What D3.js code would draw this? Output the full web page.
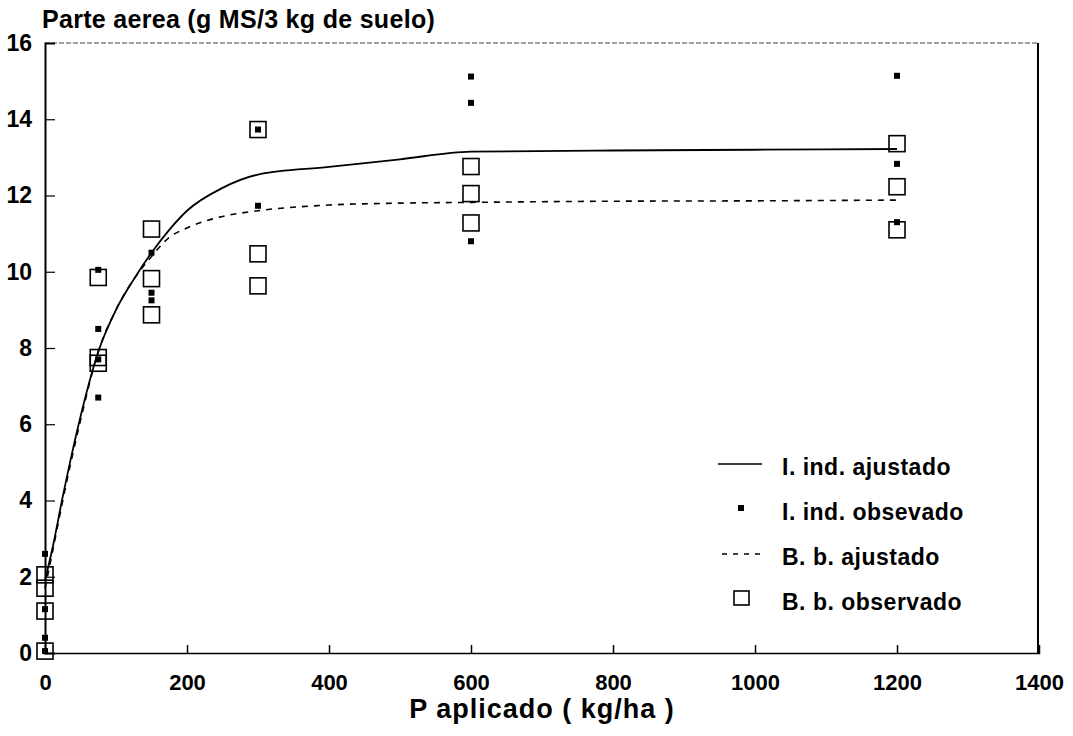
<!DOCTYPE html>
<html lang="es">
<head>
  <meta charset="utf-8">
  <title>Parte aerea</title>
  <script src="https://d3js.org/d3.v7.min.js"></script>
  <style>
    body { margin: 0; background: #fff; }
    text { font-family: "Liberation Sans", Arial, sans-serif; font-weight: bold; fill: #000; }
  </style>
</head>
<body>
<div id="container"></div>
<script>
  var w = 1073, h = 736;

  // data
  var xTicks = [0, 200, 400, 600, 800, 1000, 1200, 1400];
  var yTicks = [0, 2, 4, 6, 8, 10, 12, 14, 16];

  var fitX   = [0, 10, 25, 50, 75, 100, 125, 150, 175, 200, 250, 300, 400, 500, 600, 800, 1000, 1200];
  var indFit = [1.9, 2.7, 4.1, 6.2, 7.9, 9.0, 9.8, 10.5, 11.1, 11.6, 12.2, 12.55, 12.75, 12.95, 13.15, 13.18, 13.2, 13.22];
  var bbFit  = [1.7, 2.6, 4.0, 6.1, 7.9, 9.0, 9.8, 10.4, 10.9, 11.15, 11.45, 11.6, 11.75, 11.8, 11.82, 11.85, 11.86, 11.88];

  var indObs = [[0, 2.6], [0, 1.15], [0, 0.4], [0, 0.05],
    [75, 10.05], [75, 8.5], [75, 7.7], [75, 6.7],
    [150, 10.5], [150, 9.45], [150, 9.25],
    [300, 13.73], [300, 11.73],
    [600, 15.12], [600, 14.43], [600, 10.8],
    [1200, 15.14], [1200, 12.83], [1200, 11.3]];

  var bbObs = [[0, 2.05], [0, 1.7], [0, 1.1], [0, 0.05],
    [75, 9.85], [75, 7.75], [75, 7.6],
    [150, 11.12], [150, 9.82], [150, 8.87],
    [300, 13.73], [300, 10.47], [300, 9.63],
    [600, 12.76], [600, 12.05], [600, 11.28],
    [1200, 13.36], [1200, 12.23], [1200, 11.1]];

  var legendItems = ["I. ind. ajustado", "I. ind. obsevado", "B. b. ajustado", "B. b. observado"];

  var svg = d3.select("#container").append("svg")
    .attr("width", w).attr("height", h);

  var x = d3.scaleLinear().domain([0, 1400]).range([45, 1039]);
  var y = d3.scaleLinear().domain([0, 16]).range([653, 43]);

  // frame
  svg.append("line").attr("x1", x(0)).attr("x2", x(1400)).attr("y1", y(16)).attr("y2", y(16))
    .attr("stroke", "#444").attr("stroke-width", 1).attr("stroke-dasharray", "5,2");
  svg.append("line").attr("x1", x(1400) - 1).attr("x2", x(1400) - 1).attr("y1", y(16)).attr("y2", y(0))
    .attr("stroke", "#000").attr("stroke-width", 2);

  // axes with inward ticks
  var xAxis = d3.axisBottom(x).tickValues(xTicks).tickSize(-8).tickPadding(22).tickFormat(d3.format("d"));
  var gx = svg.append("g").attr("transform", "translate(0," + y(0) + ")").call(xAxis);
  gx.select(".domain").attr("stroke-width", 1.5);
  gx.selectAll(".tick line").attr("stroke-width", 1.5);
  gx.selectAll(".tick").filter(function(d) { return d === 0 || d === 1400; }).select("line").remove();
  gx.selectAll("text").style("font-size", "22px").attr("dy", "0.32em").attr("y", 30);

  var yAxis = d3.axisLeft(y).tickValues(yTicks).tickSize(-10).tickPadding(14).tickFormat(d3.format("d"));
  var gy = svg.append("g").attr("transform", "translate(" + x(0) + ",0)").call(yAxis);
  gy.select(".domain").attr("stroke-width", 2);
  gy.selectAll(".tick line").attr("stroke-width", 1.2);
  gy.selectAll(".tick").filter(function(d) { return d === 0 || d === 16; }).select("line").remove();
  gy.selectAll("text").style("font-size", "23px").attr("x", -13);
  svg.selectAll(".domain").attr("stroke", "#000");

  // fitted curves
  var line = d3.line()
    .x(function(d, i) { return x(fitX[i]); })
    .y(function(d) { return y(d); })
    .curve(d3.curveMonotoneX);

  svg.append("path").attr("d", line(indFit))
    .attr("fill", "none").attr("stroke", "#000").attr("stroke-width", 1.8);
  svg.append("path").attr("d", line(bbFit))
    .attr("fill", "none").attr("stroke", "#000").attr("stroke-width", 1.6)
    .attr("stroke-dasharray", "6,6");

  // observed values
  var sq = 16, pt = 6;
  svg.selectAll("rect.bb").data(bbObs).enter().append("rect")
    .attr("class", "bb")
    .attr("x", function(d) { return x(d[0]) - sq / 2; })
    .attr("y", function(d) { return y(d[1]) - sq / 2; })
    .attr("width", sq).attr("height", sq)
    .attr("fill", "none").attr("stroke", "#000").attr("stroke-width", 1.6);

  svg.selectAll("rect.ind").data(indObs).enter().append("rect")
    .attr("class", "ind")
    .attr("x", function(d) { return x(d[0]) - pt / 2; })
    .attr("y", function(d) { return y(d[1]) - pt / 2; })
    .attr("width", pt).attr("height", pt)
    .attr("fill", "#000");

  // legend
  var lg = svg.append("g").attr("transform", "translate(718,464)");
  var rowH = 45;
  lg.append("line").attr("x1", 0).attr("x2", 44).attr("y1", 0).attr("y2", 0)
    .attr("stroke", "#000").attr("stroke-width", 1.5);
  lg.append("rect").attr("x", 23 - pt / 2).attr("y", rowH - pt / 2 - 1).attr("width", pt).attr("height", pt).attr("fill", "#000");
  lg.append("line").attr("x1", 4).attr("x2", 44).attr("y1", rowH * 2).attr("y2", rowH * 2)
    .attr("stroke", "#000").attr("stroke-width", 1.5).attr("stroke-dasharray", "5,6");
  lg.append("rect").attr("x", 16).attr("y", rowH * 3 - 8).attr("width", 15).attr("height", 14)
    .attr("fill", "none").attr("stroke", "#000").attr("stroke-width", 1.6);

  lg.selectAll("text.leg").data(legendItems).enter().append("text")
    .attr("class", "leg")
    .attr("x", 64)
    .attr("y", function(d, i) { return i * rowH + 4; })
    .attr("dy", "0.32em")
    .style("font-size", "23px")
    .style("letter-spacing", "0.5px")
    .text(function(d) { return d; });

  // titles
  svg.append("text").attr("x", 42).attr("y", 28)
    .style("font-size", "25px").style("letter-spacing", "0.3px")
    .text("Parte aerea (g MS/3 kg de suelo)");

  svg.append("text").attr("x", (x(0) + x(1400)) / 2).attr("y", 718)
    .attr("text-anchor", "middle")
    .style("font-size", "27px").style("letter-spacing", "1px")
    .text("P aplicado ( kg/ha )");
</script>
</body>
</html>
